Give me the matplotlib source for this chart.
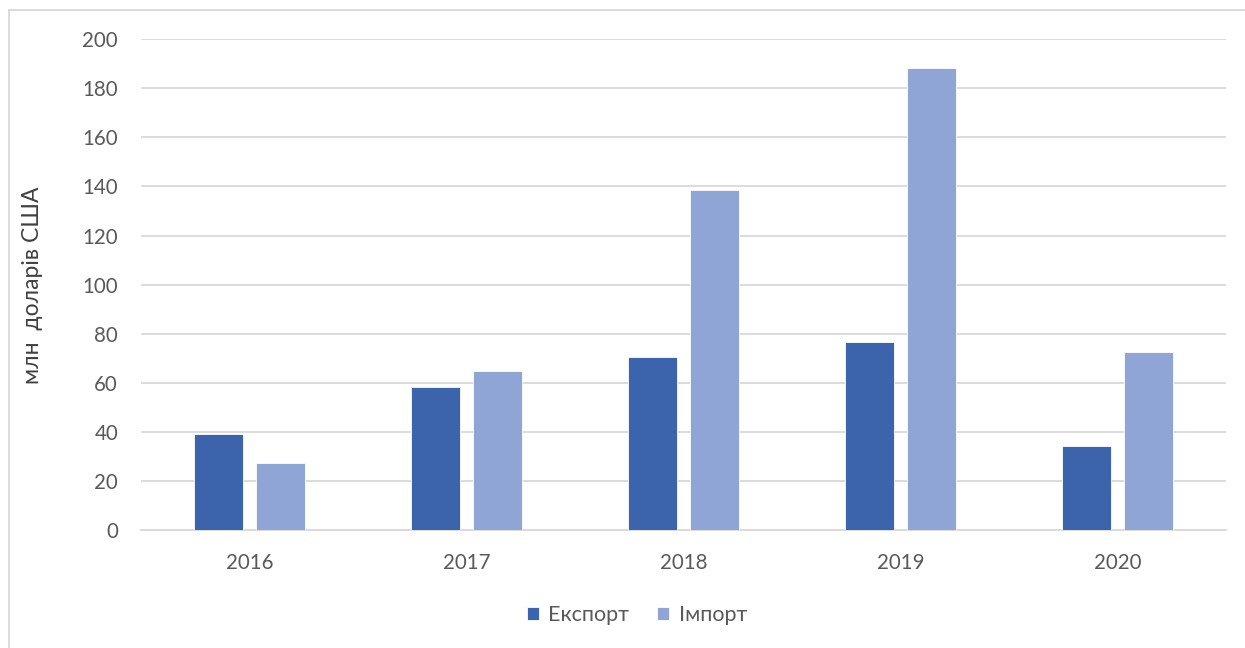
import matplotlib.pyplot as plt
import numpy as np

# дані
roky = ["2016", "2017", "2018", "2019", "2020"]
eksport = [39.2, 58.2, 70.4, 76.5, 34.3]
import_ = [27.5, 64.8, 138.5, 188.3, 72.4]

kolir_eksport = "#3C64AD"
kolir_import = "#8FA5D5"
sirij = "#595959"

plt.rcParams["font.family"] = ["Lato", "DejaVu Sans"]

fig = plt.figure(figsize=(12.45, 6.48), dpi=100)
ax = fig.add_axes([141 / 1245, (648 - 530.3) / 648, (1226 - 141) / 1245, (530.3 - 39) / 648])

x = np.arange(len(roky))
shyryna = 0.222
zsuv = 0.143
ax.bar(x - zsuv, eksport, shyryna, color=kolir_eksport, edgecolor="white", linewidth=0.6,
       label="Експорт", zorder=3)
ax.bar(x + zsuv, import_, shyryna, color=kolir_import, edgecolor="white", linewidth=0.6,
       label="Імпорт", zorder=3)

ax.set_xlim(-0.5, len(roky) - 0.5)
ax.set_ylim(0, 200)
ax.set_yticks(range(0, 201, 20))
ax.set_xticks(x)
ax.set_xticklabels(roky)
ax.grid(axis="y", color="#D9D9D9", linewidth=1.3, zorder=0)
ax.tick_params(axis="both", length=0, labelsize=14.8, colors=sirij, pad=16.5)
for s in ["top", "right", "left"]:
    ax.spines[s].set_visible(False)
ax.spines["bottom"].set_color("#D9D9D9")
ax.spines["bottom"].set_linewidth(1.3)

fig.text(33 / 1245, 1 - 285 / 648, "млн  доларів США", rotation=90, ha="center", va="center",
         fontsize=16.5, color="#404040")

leg = fig.legend(loc="center", bbox_to_anchor=(637 / 1245, 1 - 615 / 648), ncol=2, frameon=False,
                 fontsize=15.5, handlelength=0.55, handleheight=0.55, handletextpad=0.45,
                 columnspacing=1.3)
for t in leg.get_texts():
    t.set_color(sirij)

# рамка області діаграми
fig.add_artist(plt.Line2D([8.5 / 1245, 8.5 / 1245], [0, 1 - 10 / 648], color="#D9D9D9", lw=1.3))
fig.add_artist(plt.Line2D([8.5 / 1245, 1], [1 - 10 / 648, 1 - 10 / 648], color="#D9D9D9", lw=1.3))

plt.savefig("out.png", dpi=100)
plt.close()
